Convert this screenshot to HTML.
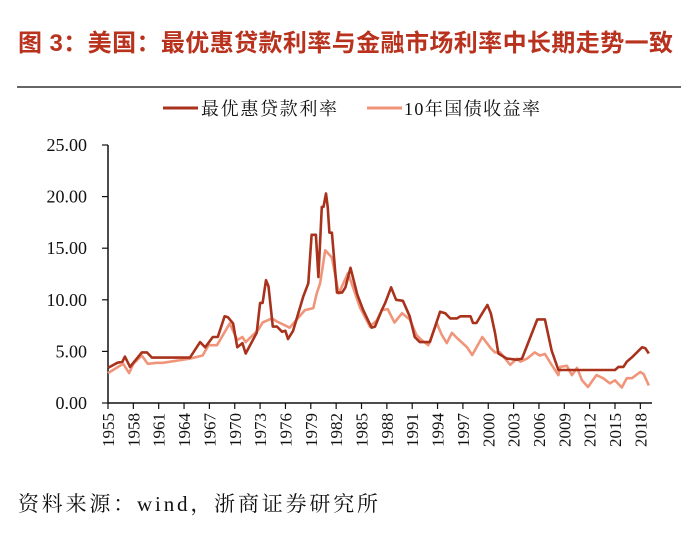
<!DOCTYPE html>
<html><head><meta charset="utf-8"><style>
body{margin:0;width:700px;height:529px;background:#fff;overflow:hidden;font-family:"Liberation Serif","Noto Serif CJK SC",serif}
</style></head><body>
<svg width="700" height="529" xmlns="http://www.w3.org/2000/svg">
<text x="18" y="51" font-family="Liberation Sans,Noto Sans CJK SC,sans-serif" font-weight="bold" font-size="24" textLength="655" fill="#b8321e">图 3：美国：最优惠贷款利率与金融市场利率中长期走势一致</text>
<line x1="17" y1="87" x2="681" y2="87" stroke="#333" stroke-width="1.5"/>
<g>
<line x1="163" y1="108" x2="198" y2="108" stroke="#a8321c" stroke-width="3"/>
<text x="201" y="115" font-size="18" textLength="136" fill="#111">最优惠贷款利率</text>
<line x1="367" y1="108" x2="402" y2="108" stroke="#f0957a" stroke-width="3"/>
<text x="404" y="115" font-size="18" textLength="136" fill="#111">10年国债收益率</text>
</g>
<g id="axes"></g>
<g id="series"></g>
<text x="18" y="511" font-size="21" textLength="360" fill="#111">资料来源：wind，浙商证券研究所</text>
</svg>
<script>
const yTicks=[0,5,10,15,20,25];
const xTickYears=[1955,1958,1961,1964,1967,1970,1973,1976,1979,1982,1985,1988,1991,1994,1997,2000,2003,2006,2009,2012,2015,2018];
const primeYears=[1955,1956.1,1956.7,1957,1957.6,1959,1959.6,1960.2,1964.7,1965.9,1966.5,1967.4,1968,1968.8,1969.2,1969.8,1970.3,1970.9,1971.3,1972.6,1973,1973.3,1973.7,1974,1974.5,1975,1975.6,1976,1976.3,1976.9,1978.1,1978.7,1979.1,1979.6,1979.9,1980.3,1980.5,1980.8,1981,1981.2,1981.5,1982.1,1982.7,1983.1,1983.7,1984.5,1985.2,1986.2,1986.6,1987.4,1987.8,1988.5,1989.1,1989.9,1990.7,1991.3,1991.9,1993.1,1994.3,1994.9,1995.5,1996.3,1996.7,1997.9,1998.2,1998.6,1999.3,1999.9,2000.3,2000.8,2001.2,2002.2,2003.4,2004,2005.8,2006.7,2007.5,2008.3,2015,2015.4,2016,2016.4,2017.1,2018.2,2018.6,2019];
const primeVals=[3.4,3.9,4.0,4.5,3.5,4.9,4.9,4.4,4.4,5.9,5.4,6.4,6.4,8.4,8.3,7.7,5.4,5.8,4.8,6.8,9.7,9.7,11.9,11.3,7.4,7.4,6.9,7.0,6.2,7.0,10.3,11.6,16.3,16.3,12.2,19.0,19.0,20.3,19.0,16.5,16.5,10.7,10.7,11.2,13.1,10.5,9.0,7.3,7.4,9.0,9.7,11.2,10.0,9.9,8.4,6.4,5.9,5.9,8.85,8.7,8.2,8.2,8.4,8.4,7.75,7.75,8.7,9.5,8.7,6.8,4.8,4.3,4.2,4.3,8.1,8.1,5.1,3.2,3.2,3.5,3.5,4.0,4.5,5.4,5.3,4.8];
const bondYears=[1955,1956.2,1956.8,1957.5,1958,1959,1959.7,1960.8,1961.5,1964.7,1966.2,1966.9,1967.9,1969.4,1970.3,1970.9,1971.3,1972.8,1973.3,1974.4,1975,1976.5,1978.3,1979.3,1979.7,1980.1,1980.7,1981.5,1982.3,1983.4,1984.8,1986,1986.8,1987.4,1988.1,1988.9,1989.8,1990.7,1991.5,1992.1,1992.9,1993.9,1994.5,1995.1,1995.7,1996.3,1997.5,1998.1,1999.3,2000.3,2000.8,2001.4,2002,2002.6,2003.4,2003.8,2004.6,2005.5,2006.1,2006.7,2007.5,2008.3,2008.5,2009.3,2009.9,2010.5,2011.1,2011.8,2012.8,2013.6,2014.4,2015,2015.8,2016.4,2017,2018,2018.4,2019];
const bondVals=[2.9,3.5,3.8,2.9,3.8,4.6,3.8,3.9,3.9,4.3,4.6,5.6,5.6,7.7,6.1,6.4,5.9,7.1,7.8,8.2,7.9,7.3,9.0,9.2,10.6,11.6,14.8,14.1,10.6,12.6,9.3,7.4,8.0,9.0,9.1,7.8,8.7,8.1,6.6,6.1,5.6,7.75,6.6,5.8,6.8,6.3,5.4,4.65,6.4,5.3,4.9,4.9,4.3,3.7,4.3,4.0,4.3,4.9,4.6,4.75,3.7,2.7,3.5,3.6,2.7,3.4,2.2,1.55,2.7,2.4,1.9,2.2,1.5,2.4,2.4,3.0,2.8,1.7];
const X0=108,Y0=403,PXY=8.45,PXV=10.32;
const sx=y=>X0+(y-1955)*PXY, sy=v=>Y0-v*PXV;
const NS='http://www.w3.org/2000/svg';
const axes=document.getElementById('axes'), series=document.getElementById('series');
function mk(tag,attrs,parent){const e=document.createElementNS(NS,tag);for(const k in attrs)e.setAttribute(k,attrs[k]);parent.appendChild(e);return e;}
let yl=mk('line',{x1:X0,y1:sy(0),x2:X0,y2:sy(25),stroke:'#111','stroke-width':1.5},axes);


let xl=mk('line',{x1:X0,y1:Y0,x2:652,y2:Y0,stroke:'#111','stroke-width':1.5},axes);


yTicks.forEach(v=>{
 const t=mk('line',{x1:X0-6,y1:sy(v),x2:X0,y2:sy(v),stroke:'#111','stroke-width':1.2},axes);
 
 
 const l=mk('text',{x:87,y:sy(v)+6,'text-anchor':'end','font-size':18,fill:'#111'},axes);
 l.textContent=v.toFixed(2);
 
 
});
xTickYears.forEach(y=>{
 const x=sx(y);
 const t=mk('line',{x1:x,y1:Y0,x2:x,y2:Y0+6,stroke:'#111','stroke-width':1.2},axes);
 
 
 const l=mk('text',{x:0,y:0,'text-anchor':'end','font-size':17,fill:'#111',transform:`translate(${x+6},${Y0+10}) rotate(-90)`},axes);
 l.textContent=y;
 
 
});
function line(xs,vs,color,name){
 const p=mk('path',{d:xs.map((y,i)=>(i?'L':'M')+sx(y).toFixed(1)+','+sy(vs[i]).toFixed(1)).join(''),fill:'none',stroke:color,'stroke-width':2.6,'stroke-linejoin':'round'},series);
 
 
}
line(bondYears,bondVals,'#f0957a','series-10y-yield');
line(primeYears,primeVals,'#a8321c','series-prime-rate');
</script>
</body></html>
